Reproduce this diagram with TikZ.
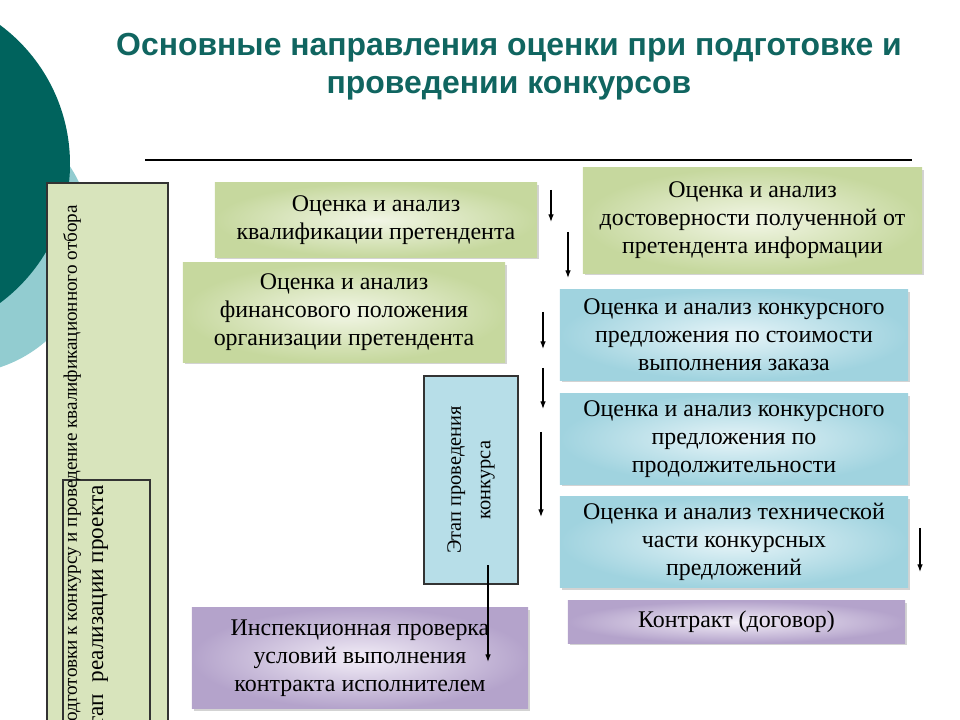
\documentclass[tikz,border=0pt]{standalone}
\usepackage{fontspec}
\setmainfont{Liberation Serif}
\newfontfamily\headfont{Liberation Sans}
\usetikzlibrary{positioning}
\usetikzlibrary{arrows.meta,shadows}

\definecolor{tealdark}{RGB}{0,99,93}
\definecolor{teallite}{RGB}{146,204,208}
\definecolor{titleteal}{RGB}{16,101,96}
\definecolor{greenlite}{RGB}{242,246,230}
\definecolor{greendark}{RGB}{198,216,158}
\definecolor{bluelite}{RGB}{230,244,248}
\definecolor{bluedark}{RGB}{160,211,223}
\definecolor{violetlite}{RGB}{242,237,247}
\definecolor{violetdark}{RGB}{180,163,203}
\definecolor{prepgreen}{RGB}{216,228,188}
\definecolor{stageblue}{RGB}{183,222,232}

\tikzset{
 evalbox/.style={inner sep=0pt, align=center, font=\fontsize{17}{20}\selectfont,
   drop shadow={shadow xshift=1.6pt,shadow yshift=-1.6pt,opacity=0.35}},
 greenbox/.style={evalbox, inner color=greenlite, outer color=greendark},
 bluebox/.style={evalbox, inner color=bluelite, outer color=bluedark},
 violetbox/.style={evalbox, inner color=violetlite, outer color=violetdark},
 stagebox/.style={draw=black!80, line width=1pt, inner sep=0pt},
 sidetext/.style={rotate=90, anchor=east, inner sep=0pt},
 arr/.style={line width=0.8pt, -{Latex[length=5.5pt,width=4pt]}}
}

\begin{document}
\begin{tikzpicture}[x=0.025cm, y=-0.025cm]
 \useasboundingbox (0,0) rectangle (960,720);
 \fill[teallite] (-42,240) circle [radius=134];
 \fill[tealdark] (-103,164) circle [radius=173];

 \node[font=\headfont\bfseries\fontsize{22.7}{27}\selectfont, text=titleteal, align=center]
   (title) at (509,67) {Основные направления оценки при подготовке и\\проведении конкурсов};
 \draw[line width=1pt] (145,160) -- (912,160);

 \node[stagebox, fill=prepgreen, minimum width=3.025cm, minimum height=13.675cm] (prep) at (107.5,456.5) {};
 \node[stagebox, line width=0.8pt, minimum width=2.175cm, minimum height=6.25cm] (realize) at (106.5,605) {};
 \node[sidetext, font=\fontsize{13.6}{16}\selectfont] (preptext) at (72,205)
   {Этап подготовки к конкурсу и проведение квалификационного отбора};
 \node[sidetext, font=\fontsize{16.5}{19}\selectfont] (realizetext) at (98,485)
   {Этап\ \ реализации проекта};

 \node[greenbox, minimum width=8.05cm, minimum height=1.85cm] (qual) at (376,220)
   {Оценка и анализ\\квалификации претендента};
 \node[greenbox, minimum width=8.05cm, minimum height=2.475cm] (fin) at (344,312.5)
   {Оценка и анализ\\финансового положения\\организации претендента};
 \node[greenbox, minimum width=8.475cm, minimum height=2.625cm] (trust) at (752.5,220.5)
   {Оценка и анализ\\достоверности полученной от\\претендента информации};
 \node[bluebox, minimum width=8.7cm, minimum height=2.25cm] (cost) at (734,335)
   {Оценка и анализ конкурсного\\предложения по стоимости\\выполнения заказа};
 \node[bluebox, minimum width=8.7cm, minimum height=2.25cm] (dur) at (734,439)
   {Оценка и анализ конкурсного\\предложения по\\продолжительности};
 \node[bluebox, minimum width=8.7cm, minimum height=2.275cm] (tech) at (734,542)
   {Оценка и анализ технической\\части конкурсных\\предложений};
 \node[violetbox, minimum width=8.425cm, minimum height=1.05cm] (contract) at (736.5,622)
   {Контракт (договор)};
 \node[violetbox, minimum width=8.4cm, minimum height=2.525cm] (inspect) at (360,658)
   {Инспекционная проверка\\условий выполнения\\контракта исполнителем};

 \node[stagebox, fill=stageblue, rotate=90, minimum width=5.2cm, minimum height=2.35cm,
   align=center, font=\fontsize{14.5}{21}\selectfont] (stage) at (471,480)
   {Этап проведения\\конкурса};

 \foreach \n/\x/\ya/\yb in {1/551/190/222, 2/568/232/278, 3/543/312/349, 4/543/368/409,
   5/541/432/517, 6/488/565/662, 7/920/528/572} {
   \coordinate (from\n) at (\x,\ya);
   \coordinate (to\n) at (\x,\yb);
   \draw[arr] (from\n) -- (to\n);
 }
\end{tikzpicture}
\end{document}
